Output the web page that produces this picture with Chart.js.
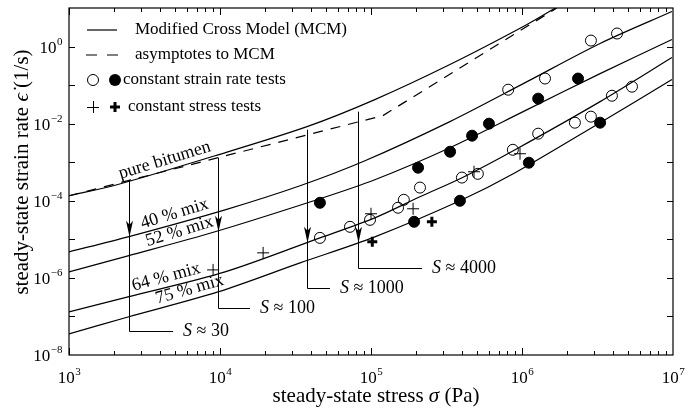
<!DOCTYPE html>
<html>
<head>
<meta charset="utf-8">
<title>Steady-state strain rate vs stress</title>
<script src="https://cdn.jsdelivr.net/npm/chart.js@4.4.1/dist/chart.umd.min.js"></script>
<style>
  body { margin: 0; background: #fff; }
  canvas { display: block; }
</style>
</head>
<body>
<canvas id="chart" width="700" height="410"></canvas>
<script>
// stress in Pa, strain rate in 1/s
const bitumenStress = [1e3, 2.08e3, 9.27e3, 3.77e4, 1.06e5, 3.33e5, 1.05e6, 1.73e6];
const bitumenRate = [1.35e-4, 2.61e-4, 1.47e-3, 8.36e-3, 4.2e-2, 0.341, 3.51, 10.9];

const asymptoteStress = [1e3, 1.2e5, 1.7e6];
const asymptoteRate = [1.35e-4, 1.62e-2, 10];

const mix40Stress = [1e3, 2.46e3, 1.08e4, 3.39e4, 9.12e4, 3.33e5, 1.05e6, 3.29e6, 9.84e6];
const mix40Rate = [4.73e-6, 1.16e-5, 5.83e-5, 2.45e-4, 1.09e-3, 1.13e-2, 0.116, 1.2, 8.1];

const mix52Stress = [1e3, 2.46e3, 9.27e3, 4.59e4, 1.06e5, 3.33e5, 1.05e6, 3.29e6, 9.84e6];
const mix52Rate = [1.43e-6, 3.72e-6, 1.57e-5, 1.13e-4, 3.51e-4, 2.38e-3, 0.0218, 0.199, 1.52];

const mix64Stress = [1e3, 2.46e3, 1.08e4, 4.59e4, 1.06e5, 2.11e5, 4.01e5, 9.0e5, 3.29e6, 9.84e6];
const mix64Rate = [1.31e-7, 3.21e-7, 1.43e-6, 1.09e-5, 3.61e-5, 1.27e-4, 3.96e-4, 2.11e-3, 0.0373, 0.518];

const mix75Stress = [1e3, 2.46e3, 9.7e3, 3.39e4, 1.06e5, 3.88e5, 9.0e5, 3.29e6, 9.84e6];
const mix75Rate = [3.51e-8, 9.7e-8, 4.33e-7, 2.45e-6, 1.16e-5, 1.0e-4, 5.33e-4, 0.0106, 0.139];

// constant strain rate tests (open / filled), constant stress tests (thin / bold)
const openStrainStress = [4.59e4, 7.26e4, 9.85e4, 1.51e5, 1.65e5, 2.11e5, 4.0e5, 5.1e5, 8.1e5, 8.7e5, 1.28e6, 1.42e6, 2.24e6, 2.86e6, 2.86e6, 3.94e6, 4.26e6, 5.35e6];
const openStrainRate = [1.09e-5, 2.11e-5, 3.2e-5, 6.6e-5, 1.06e-4, 2.2e-4, 4.0e-4, 5.0e-4, 0.076, 2.1e-3, 5.5e-3, 0.148, 0.0106, 0.0152, 1.43, 0.053, 2.18, 0.091];
const filledStrainStress = [4.59e4, 1.93e5, 2.05e5, 3.34e5, 3.88e5, 4.67e5, 6.04e5, 1.11e6, 1.28e6, 2.35e6, 3.29e6];
const filledStrainRate = [8.87e-5, 2.85e-5, 7.2e-4, 1.87e-3, 1.0e-4, 4.88e-3, 1.0e-2, 9.7e-4, 0.0446, 0.148, 0.0106];
const thinStressStress = [9.0e3, 1.93e4, 1.0e5, 1.9e5, 4.81e5, 9.7e5];
const thinStressRate = [1.61e-6, 4.46e-6, 4.6e-5, 6.2e-5, 5.66e-4, 1.66e-3];
const boldStressStress = [1.02e5, 2.53e5];
const boldStressRate = [8.6e-6, 2.85e-5];

const xTickExponents = [3, 4, 5, 6, 7];
const yTickExponents = [-8, -6, -4, -2, 0];

// stiffness arrows: x, start on pure bitumen, tip on mix curve, foot, end of leader
const arrowStress = [2.5e3, 9.7e3, 3.77e4, 8.2e4];
const arrowTop = [3.5e-4, 1.31e-3, 6.98e-3, 2.05e-2];
const arrowTip = [1.16e-5, 1.57e-5, 8.1e-6, 8.1e-6];
const arrowFoot = [4.2e-8, 1.66e-7, 5.5e-7, 1.82e-6];
const arrowLeaderEnd = [4.89e3, 1.58e4, 5.35e4, 2.18e5];
const arrowLabels = ['30', '100', '1000', '4000'];

const curveLabels = ['pure bitumen', '40 % mix', '52 % mix', '64 % mix', '75 % mix'];
const curveLabelStress = [4.3e3, 5.0e3, 5.4e3, 4.4e3, 6.3e3];
const curveLabelRate = [1.12e-3, 4.6e-5, 1.6e-5, 1.05e-6, 5.0e-7];
const curveLabelAngle = [-17, -17, -17, -15, -16];

const SERIF = '"Liberation Serif", "Times New Roman", serif';
const pts = (xs, ys) => xs.map((x, i) => ({ x: x, y: ys[i] }));

const curve = (xs, ys, dash) => ({
    data: pts(xs, ys),
    showLine: true,
    borderColor: '#000',
    borderWidth: 1.2,
    borderDash: dash || [],
    pointRadius: 0,
    tension: dash ? 0 : 0.3,
    fill: false
});

const marks = (xs, ys, style, radius, width, fillColor) => ({
    data: pts(xs, ys),
    showLine: false,
    pointStyle: style,
    pointRadius: radius,
    pointBorderWidth: width,
    pointBorderColor: '#000',
    pointBackgroundColor: fillColor
});

function powLabel(ctx, exp, x, y, align) {
    const base = '10';
    const sup = exp < 0 ? '\u2212' + Math.abs(exp) : String(exp);
    ctx.font = '17px ' + SERIF;
    const wb = ctx.measureText(base).width;
    ctx.font = '11px ' + SERIF;
    const ws = ctx.measureText(sup).width;
    const left = align === 'center' ? x - (wb + ws) / 2 : x - wb - ws;
    ctx.textAlign = 'left';
    ctx.textBaseline = 'alphabetic';
    ctx.font = '17px ' + SERIF;
    ctx.fillText(base, left, y);
    ctx.font = '11px ' + SERIF;
    ctx.fillText(sup, left + wb + 0.5, y - 8);
}

function mixedText(ctx, parts, x, y, align) {
    let total = 0;
    parts.forEach(p => { ctx.font = p[1]; total += ctx.measureText(p[0]).width; });
    let cx = align === 'center' ? x - total / 2 : x;
    ctx.textAlign = 'left';
    parts.forEach(p => {
        ctx.font = p[1];
        ctx.fillText(p[0], cx, y);
        cx += ctx.measureText(p[0]).width;
    });
}

const decor = {
    id: 'decor',
    beforeDraw(chart) {
        const ctx = chart.ctx;
        ctx.save();
        ctx.fillStyle = '#fff';
        ctx.fillRect(0, 0, chart.width, chart.height);
        ctx.restore();
    },
    afterDatasetsDraw(chart) {
        const ctx = chart.ctx;
        const xs = chart.scales.x, ys = chart.scales.y;
        const a = chart.chartArea;
        ctx.save();
        ctx.strokeStyle = '#000';
        ctx.fillStyle = '#000';

        // frame
        ctx.lineWidth = 1.2;
        ctx.strokeRect(a.left, a.top, a.right - a.left, a.bottom - a.top);

        // x ticks, inward on bottom and top
        ctx.lineWidth = 1;
        ctx.beginPath();
        for (let e = 3; e < 7; e++) {
            for (let m = 1; m < 10; m++) {
                const px = Math.round(xs.getPixelForValue(m * Math.pow(10, e))) + 0.5;
                const len = m === 1 ? 7 : 4;
                ctx.moveTo(px, a.bottom); ctx.lineTo(px, a.bottom - len);
                ctx.moveTo(px, a.top); ctx.lineTo(px, a.top + len);
            }
        }
        // y ticks every decade, inward on left and right
        for (let e = -7; e <= 0; e++) {
            const py = Math.round(ys.getPixelForValue(Math.pow(10, e))) + 0.5;
            ctx.moveTo(a.left, py); ctx.lineTo(a.left + 6, py);
            ctx.moveTo(a.right, py); ctx.lineTo(a.right - 6, py);
        }
        ctx.stroke();

        // tick labels
        xTickExponents.forEach(e => powLabel(ctx, e, xs.getPixelForValue(Math.pow(10, e)), a.bottom + 28, 'center'));
        yTickExponents.forEach(e => powLabel(ctx, e, a.left - 7, ys.getPixelForValue(Math.pow(10, e)) + 6, 'right'));

        // axis titles
        ctx.textBaseline = 'middle';
        mixedText(ctx, [['steady-state stress ', '21px ' + SERIF], ['\u03c3', 'italic 21px ' + SERIF], [' (Pa)', '21px ' + SERIF]],
            (a.left + a.right) / 2 + 5, 396, 'center');
        ctx.save();
        ctx.translate(22, 172);
        ctx.rotate(-Math.PI / 2);
        mixedText(ctx, [['steady-state strain rate ', '21px ' + SERIF], ['\u03f5\u0307', 'italic 21px ' + SERIF], [' (1/s)', '21px ' + SERIF]],
            0, 0, 'center');
        ctx.restore();

        // stiffness arrows
        ctx.lineWidth = 1;
        arrowStress.forEach((s, i) => {
            const px = Math.round(xs.getPixelForValue(s)) + 0.5;
            const top = ys.getPixelForValue(arrowTop[i]);
            const tip = ys.getPixelForValue(arrowTip[i]);
            const foot = Math.round(ys.getPixelForValue(arrowFoot[i])) + 0.5;
            const end = xs.getPixelForValue(arrowLeaderEnd[i]);
            ctx.beginPath();
            ctx.moveTo(px, top); ctx.lineTo(px, foot); ctx.lineTo(end, foot);
            ctx.stroke();
            ctx.beginPath();
            ctx.moveTo(px, tip);
            ctx.lineTo(px - 3.5, tip - 16);
            ctx.lineTo(px, tip - 12);
            ctx.lineTo(px + 3.5, tip - 16);
            ctx.closePath();
            ctx.fill();
            ctx.textBaseline = 'middle';
            mixedText(ctx, [['S', 'italic 18px ' + SERIF], [' \u2248 ' + arrowLabels[i], '18px ' + SERIF]], end + 10, foot, 'left');
        });

        // curve labels along the lines
        ctx.font = '18px ' + SERIF;
        ctx.textAlign = 'center';
        ctx.textBaseline = 'middle';
        curveLabels.forEach((t, i) => {
            ctx.save();
            ctx.translate(xs.getPixelForValue(curveLabelStress[i]), ys.getPixelForValue(curveLabelRate[i]));
            ctx.rotate(curveLabelAngle[i] * Math.PI / 180);
            ctx.fillText(t, 0, 0);
            ctx.restore();
        });

        // legend
        ctx.textAlign = 'left';
        ctx.textBaseline = 'middle';
        ctx.font = '17px ' + SERIF;
        ctx.lineWidth = 1.2;
        ctx.beginPath(); ctx.moveTo(87, 30); ctx.lineTo(117, 30); ctx.stroke();
        ctx.fillText('Modified Cross Model (MCM)', 135, 30);
        ctx.beginPath(); ctx.moveTo(86, 55); ctx.lineTo(97, 55); ctx.moveTo(107, 55); ctx.lineTo(118, 55); ctx.stroke();
        ctx.fillText('asymptotes to MCM', 135, 55);
        ctx.lineWidth = 1;
        ctx.beginPath(); ctx.arc(93, 80, 5.5, 0, Math.PI * 2); ctx.stroke();
        ctx.beginPath(); ctx.arc(115, 80, 6, 0, Math.PI * 2); ctx.fill();
        ctx.fillText('constant strain rate tests', 123, 80);
        ctx.beginPath(); ctx.moveTo(87, 107.5); ctx.lineTo(99, 107.5); ctx.moveTo(93.5, 101); ctx.lineTo(93.5, 113); ctx.stroke();
        ctx.lineWidth = 3;
        ctx.beginPath(); ctx.moveTo(110, 107); ctx.lineTo(120, 107); ctx.moveTo(115, 102); ctx.lineTo(115, 112); ctx.stroke();
        ctx.fillText('constant stress tests', 128, 107);

        ctx.restore();
    }
};

new Chart(document.getElementById('chart'), {
    type: 'scatter',
    data: {
        datasets: [
            marks(openStrainStress, openStrainRate, 'circle', 5.5, 1, 'rgba(0,0,0,0)'),
            marks(filledStrainStress, filledStrainRate, 'circle', 5.5, 1, '#000'),
            marks(thinStressStress, thinStressRate, 'cross', 6, 1, '#000'),
            marks(boldStressStress, boldStressRate, 'cross', 5, 3, '#000'),
            curve(bitumenStress, bitumenRate),
            curve(asymptoteStress, asymptoteRate, [10, 8]),
            curve(mix40Stress, mix40Rate),
            curve(mix52Stress, mix52Rate),
            curve(mix64Stress, mix64Rate),
            curve(mix75Stress, mix75Rate)
        ]
    },
    options: {
        responsive: false,
        devicePixelRatio: 1,
        animation: false,
        layout: { padding: { left: 69, right: 27, top: 8, bottom: 55 } },
        plugins: { legend: { display: false }, tooltip: { enabled: false } },
        scales: {
            x: { type: 'logarithmic', display: false, min: 1e3, max: 1e7 },
            y: { type: 'logarithmic', display: false, min: 1e-8, max: 10 }
        }
    },
    plugins: [decor]
});
</script>
</body>
</html>
